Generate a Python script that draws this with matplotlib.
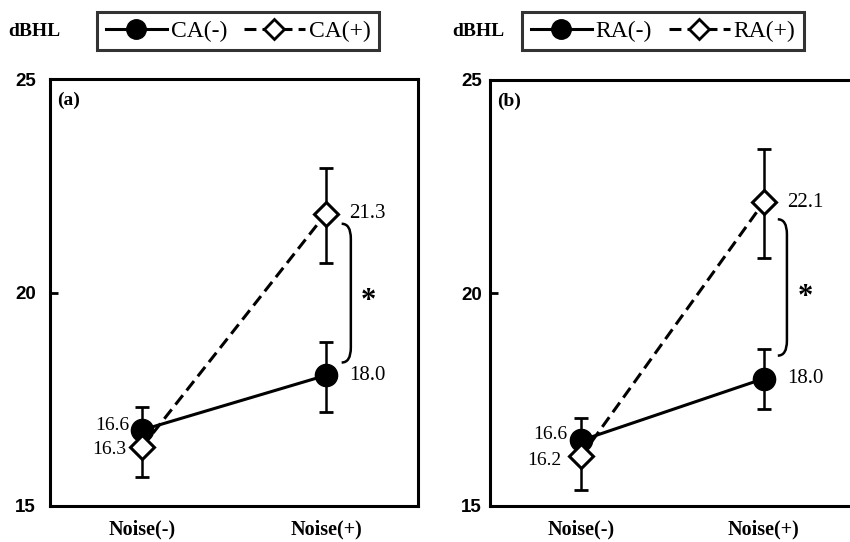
import matplotlib
matplotlib.use("Agg")
import matplotlib.pyplot as plt
from matplotlib.lines import Line2D
from matplotlib.path import Path
from matplotlib.patches import PathPatch

# ---------------- data ----------------
conditions = ["Noise(-)", "Noise(+)"]

ca_minus = [16.78, 18.06]
ca_minus_err_low = [0.0, 0.85]
ca_minus_err_up = [0.53, 0.77]
ca_plus = [16.38, 21.85]
ca_plus_err_low = [0.70, 1.15]
ca_plus_err_up = [0.0, 1.07]
ca_minus_labels = ["16.6", "18.0"]
ca_plus_labels = ["16.3", "21.3"]

ra_minus = [16.54, 17.99]
ra_minus_err_low = [0.0, 0.72]
ra_minus_err_up = [0.52, 0.70]
ra_plus = [16.17, 22.13]
ra_plus_err_low = [0.80, 1.30]
ra_plus_err_up = [0.0, 1.26]
ra_minus_labels = ["16.6", "18.0"]
ra_plus_labels = ["16.2", "22.1"]

yticks = [15, 20, 25]

SERIF = "Liberation Serif"
SANS = "Liberation Sans"

fig = plt.figure(figsize=(8.5, 5.42), dpi=100)
fig.patch.set_facecolor("white")

ax1 = fig.add_axes([50/850, 1-506/542, 368/850, 427/542])
ax2 = fig.add_axes([490/850, 1-506/542, 365/850, 426/542])

LW = 2.2
DASH = (0, (3.9, 2.0))


def panel(ax, minus, m_lo, m_up, plus, p_lo, p_up, m_lab, p_lab, tag,
          label_offsets, bracket, star, tickpad):
    x = [1, 2]
    # solid (-) series
    ax.errorbar(x, minus, yerr=[m_lo, m_up], fmt='none', ecolor='black',
                elinewidth=1.8, capsize=5, capthick=2.0, zorder=2)
    ax.plot(x, minus, color='black', lw=LW, marker='o', markersize=16,
            markerfacecolor='black', markeredgecolor='black', zorder=3)
    # dashed (+) series
    ax.errorbar(x, plus, yerr=[p_lo, p_up], fmt='none', ecolor='black',
                elinewidth=1.8, capsize=5, capthick=2.0, zorder=2)
    ax.plot(x, plus, color='black', lw=LW, linestyle=DASH, zorder=4)
    ax.plot(x, plus, linestyle='none', marker='D', markersize=12,
            markerfacecolor='white', markeredgecolor='black',
            markeredgewidth=2.2, zorder=5)

    # value labels
    (o0m, o0p, o1m, o1p) = label_offsets
    ax.annotate(m_lab[0], (1, minus[0]), xytext=o0m, textcoords='offset points',
                ha='right', va='center', fontsize=14, family=SERIF, zorder=6)
    ax.annotate(p_lab[0], (1, plus[0]), xytext=o0p, textcoords='offset points',
                ha='right', va='center', fontsize=14, family=SERIF, zorder=6)
    ax.annotate(m_lab[1], (2, minus[1]), xytext=(o1m, 0), textcoords='offset points',
                ha='left', va='center', fontsize=15, family=SERIF, zorder=6)
    ax.annotate(p_lab[1], (2, plus[1]), xytext=(o1p, 0), textcoords='offset points',
                ha='left', va='center', fontsize=15, family=SERIF, zorder=6)

    # significance bracket
    bx, by0, by1 = bracket
    dx = 0.05
    dy = 0.35
    verts = [(bx - dx, by0), (bx, by0), (bx, by0 - dy),
             (bx, by1 + dy),
             (bx, by1), (bx - dx, by1)]
    codes = [Path.MOVETO, Path.CURVE3, Path.CURVE3, Path.LINETO,
             Path.CURVE3, Path.CURVE3]
    ax.add_patch(PathPatch(Path(verts, codes), facecolor='none',
                           edgecolor='black', lw=1.8, zorder=3))
    ax.text(star[0], star[1], "*", ha='center', va='center', fontsize=22,
            fontweight='bold', family=SERIF)

    ax.text(0.02, 0.95, tag, transform=ax.transAxes, ha='left', va='center',
            fontsize=14, fontweight='bold', family=SERIF)

    ax.set_xlim(0.5, 2.5)
    ax.set_ylim(15, 25)
    ax.set_yticks(yticks)
    ax.set_yticklabels([str(t) for t in yticks], family=SANS,
                       fontweight='bold', fontsize=13.5)
    ax.set_xticks(x)
    ax.set_xticklabels(conditions, family=SERIF, fontweight='bold', fontsize=14.5)
    ax.tick_params(axis='x', length=0, pad=10)
    ax.tick_params(axis='y', direction='in', length=6, width=2, pad=tickpad)
    for s in ax.spines.values():
        s.set_linewidth(LW)
        s.set_color('black')


panel(ax1, ca_minus, ca_minus_err_low, ca_minus_err_up,
      ca_plus, ca_plus_err_low, ca_plus_err_up,
      ca_minus_labels, ca_plus_labels, "(a)",
      ((-9, 3), (-11, -2), 17, 17), (2.135, 21.61, 18.36), (2.23, 19.8), 10)
panel(ax2, ra_minus, ra_minus_err_low, ra_minus_err_up,
      ra_plus, ra_plus_err_low, ra_plus_err_up,
      ra_minus_labels, ra_plus_labels, "(b)",
      ((-10, 4), (-14, -3), 17, 17), (2.127, 21.73, 18.53), (2.226, 19.9), 6)
ax2.spines['right'].set_visible(False)

# header: unit and legends
fig.text(8/850, 1-31/542, "dBHL", ha='left', va='center', fontsize=14,
         fontweight='bold', family=SERIF)
fig.text(452/850, 1-31/542, "dBHL", ha='left', va='center', fontsize=14,
         fontweight='bold', family=SERIF)


def make_legend(cx, names):
    h1 = Line2D([], [], color='black', lw=LW, marker='o', markersize=14,
                markerfacecolor='black')
    h2 = Line2D([], [], color='black', lw=LW, linestyle=DASH, marker='D',
                markersize=10, markerfacecolor='white', markeredgewidth=2.0)
    leg = fig.legend([h1, h2], names, loc='center', bbox_to_anchor=(cx, 1-31/542),
                     ncol=2, frameon=True, fancybox=False, edgecolor='black',
                     prop={'family': SERIF, 'size': 17}, handlelength=2.6,
                     handletextpad=0.15, columnspacing=0.7, borderpad=0.35,
                     borderaxespad=0)
    leg.get_frame().set_linewidth(2.2)
    return leg


make_legend(238/850, ["CA(-)", "CA(+)"])
make_legend(663/850, ["RA(-)", "RA(+)"])

fig.savefig("out.png", dpi=100, facecolor='white')
